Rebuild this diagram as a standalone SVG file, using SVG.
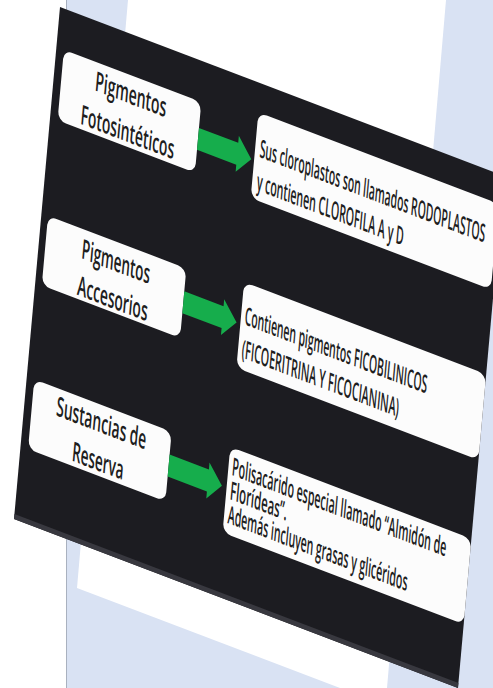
<svg xmlns="http://www.w3.org/2000/svg" width="493" height="688" viewBox="0 0 493 688">
<style>
.box{fill:#fcfcfc}
.t{font-family:"Open Sans","Liberation Sans",sans-serif;font-weight:600;font-size:25px;fill:#1e1e1e}
.c{text-anchor:middle;font-size:27px}
.arrow{fill:#16ad4c}
</style>
<rect width="493" height="688" fill="#ffffff"/>
<rect x="67" y="0" width="426" height="688" fill="#d9e2f3"/>
<line x1="66.5" y1="0" x2="66.5" y2="688" stroke="#a9b1bf" stroke-width="1"/>
<polygon points="128,0 446,0 387,688 340,688 77,588" fill="#ffffff"/>
<g transform="matrix(0.9347 0.3558 -0.0895 0.9961 60 7)">
  <g id="slide">
    <rect x="0" y="0" width="475" height="514" fill="#1c1c21"/>
    <rect x="0" y="509" width="475" height="5" fill="#38383f"/>
  </g>
  <g id="node-fotosinteticos">
    <rect class="box" x="8" y="40" width="147" height="71" rx="9"/>
    <text class="t c" x="81.5" y="68" textLength="76" lengthAdjust="spacingAndGlyphs">Pigmentos</text>
    <text class="t c" x="81.5" y="106" textLength="100" lengthAdjust="spacingAndGlyphs">Fotosintéticos</text>
  </g>
  <g id="node-accesorios">
    <rect class="box" x="7" y="207" width="148" height="70" rx="9"/>
    <text class="t c" x="81.5" y="236" textLength="73" lengthAdjust="spacingAndGlyphs">Pigmentos</text>
    <text class="t c" x="81.5" y="273" textLength="75" lengthAdjust="spacingAndGlyphs">Accesorios</text>
  </g>
  <g id="node-reserva">
    <rect class="box" x="8" y="371" width="147" height="70" rx="9"/>
    <text class="t c" x="81.5" y="398" textLength="96" lengthAdjust="spacingAndGlyphs">Sustancias de</text>
    <text class="t c" x="81.5" y="436" textLength="55" lengthAdjust="spacingAndGlyphs">Reserva</text>
  </g>
  <g id="node-rodoplastos">
    <rect class="box" x="215" y="29" width="257" height="86" rx="9"/>
    <text class="t" x="220" y="72" textLength="241" lengthAdjust="spacingAndGlyphs">Sus cloroplastos son llamados RODOPLASTOS</text>
    <text class="t" x="220" y="105" textLength="157" lengthAdjust="spacingAndGlyphs">y contienen CLOROFILA A y D</text>
  </g>
  <g id="node-ficobilinicos">
    <rect class="box" x="216" y="199" width="259" height="86" rx="9"/>
    <text class="t" x="220" y="240" textLength="195" lengthAdjust="spacingAndGlyphs">Contienen pigmentos FICOBILINICOS</text>
    <text class="t" x="220" y="273" textLength="168" lengthAdjust="spacingAndGlyphs">(FICOERITRINA Y FICOCIANINA)</text>
  </g>
  <g id="node-almidon">
    <rect class="box" x="217" y="364" width="258" height="86" rx="9"/>
    <text class="t" x="221" y="391" textLength="229" lengthAdjust="spacingAndGlyphs">Polisacárido especial llamado “Almidón de</text>
    <text class="t" x="221" y="415" textLength="61" lengthAdjust="spacingAndGlyphs">Florídeas”.</text>
    <text class="t" x="221" y="439" textLength="192" lengthAdjust="spacingAndGlyphs">Además incluyen grasas y glicéridos</text>
  </g>
  <g id="connectors">
    <polygon class="arrow" points="155,66 197,66 197,59 212,77 197,95 197,88 155,88"/>
    <polygon class="arrow" points="155,230 197,230 197,223 212,241 197,259 197,252 155,252"/>
    <polygon class="arrow" points="155,394 197,394 197,387 212,405 197,423 197,416 155,416"/>
  </g>
</g>
</svg>
